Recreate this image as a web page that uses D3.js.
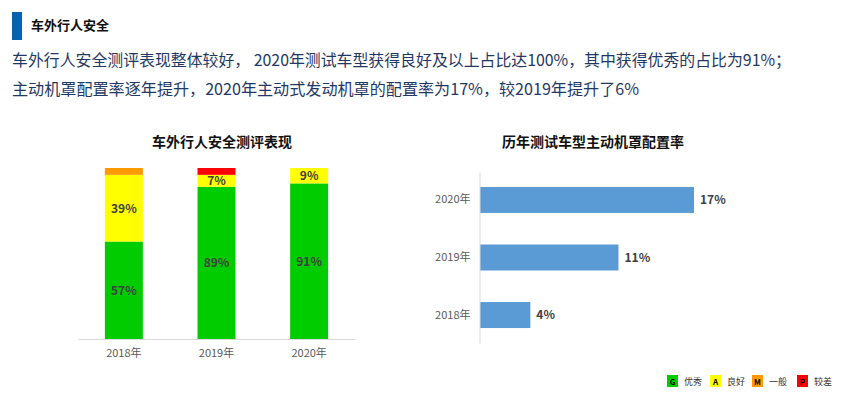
<!DOCTYPE html>
<html>
<head>
<meta charset="utf-8">
<script src="https://cdn.jsdelivr.net/npm/d3@7"></script>
<style>
    body { margin: 0; background: #fff; }
    svg { display: block; font-family: "Noto Sans CJK SC", "Noto Sans", sans-serif; }
</style>
</head>
<body>
<svg id="chart" width="841" height="394"></svg>
<script>
// data
const years = ['2018年', '2019年', '2020年'];
const ratings = ['G', 'A', 'M', 'P'];
const ratingNames = ['优秀', '良好', '一般', '较差'];
const ratingColors = ['#00CC00', '#FFFF00', '#FF9900', '#FF0000'];
const goodShare = [57, 89, 91];
const accShare = [39, 7, 9];
const margShare = [4, 0, 0];
const poorShare = [0, 4, 0];
const hoodYears = ['2020年', '2019年', '2018年'];
const hoodRate = [17, 11, 4];

const svg = d3.select('#chart');
const textColor = '#1F3864';

////////////////////////////////////////////////////////
// header
svg.append('rect').attr('x', 12).attr('y', 12).attr('width', 10).attr('height', 28).attr('fill', '#0563B0');
svg.append('text').attr('x', 31).attr('y', 30)
    .style('font-size', '13px').style('font-weight', 'bold').attr('fill', '#111')
    .text('车外行人安全');

const lines = [
    '车外行人安全测评表现整体较好， 2020年测试车型获得良好及以上占比达100%，其中获得优秀的占比为91%；',
    '主动机罩配置率逐年提升，2020年主动式发动机罩的配置率为17%，较2019年提升了6%'
];
const lineWidths = [779, 627];
svg.selectAll('.desc')
    .data(lines)
    .enter().append('text')
    .attr('class', 'desc')
    .attr('x', 12)
    .attr('y', (d, i) => 66 + i * 29)
    .attr('textLength', (d, i) => lineWidths[i])
    .attr('lengthAdjust', 'spacingAndGlyphs')
    .style('font-size', '16px')
    .attr('fill', textColor)
    .text(d => d);

////////////////////////////////////////////////////////
// left chart: stacked bars
const stackData = years.map((y, i) => ({
    year: y, G: goodShare[i], A: accShare[i], M: margShare[i], P: poorShare[i]
}));
const series = d3.stack().keys(ratings)(stackData);

const x = d3.scaleBand().domain(years).range([78, 355]).paddingInner(0.59).paddingOuter(0.29);
const y = d3.scaleLinear().domain([0, 100]).range([339, 168]);

svg.append('text').attr('x', 222).attr('y', 147).attr('text-anchor', 'middle')
    .style('font-size', '14px').style('font-weight', 'bold').attr('fill', '#111')
    .text('车外行人安全测评表现');

const layers = svg.append('g').selectAll('g')
    .data(series)
    .enter().append('g')
    .attr('fill', (d, i) => ratingColors[i]);

layers.selectAll('rect')
    .data(d => d)
    .enter().append('rect')
    .attr('x', d => x(d.data.year))
    .attr('width', x.bandwidth())
    .attr('y', d => y(d[1]))
    .attr('height', d => y(d[0]) - y(d[1]));

// labels for the G and A segments
series.slice(0, 2).forEach(s => {
    svg.append('g').selectAll('text')
        .data(s.filter(d => d[1] - d[0] > 0))
        .enter().append('text')
        .attr('x', d => x(d.data.year) + x.bandwidth() / 2)
        .attr('y', d => (y(d[0]) + y(d[1])) / 2)
        .attr('dy', '0.36em')
        .attr('text-anchor', 'middle')
        .style('font-size', '12px').style('font-weight', 'bold')
        .attr('fill', '#404040')
        .text(d => (d[1] - d[0]) + '%');
});

const xAxis = svg.append('g')
    .attr('transform', 'translate(0,339)')
    .call(d3.axisBottom(x).tickSize(0).tickPadding(10).tickSizeOuter(0));
xAxis.select('.domain').attr('stroke', '#D9D9D9');
xAxis.selectAll('text').style('font-size', '11px').attr('fill', '#595959')
    .style('font-family', '"Noto Sans CJK SC", sans-serif');

////////////////////////////////////////////////////////
// right chart: horizontal bars
const yb = d3.scaleBand().domain(hoodYears).range([172, 343]).paddingInner(0.548).paddingOuter(0.26);
const xb = d3.scaleLinear().domain([0, 17]).range([480, 694]);

svg.append('text').attr('x', 593).attr('y', 147).attr('text-anchor', 'middle')
    .style('font-size', '14px').style('font-weight', 'bold').attr('fill', '#111')
    .text('历年测试车型主动机罩配置率');

svg.append('g').selectAll('rect')
    .data(hoodRate)
    .enter().append('rect')
    .attr('x', xb(0))
    .attr('y', (d, i) => yb(hoodYears[i]))
    .attr('width', d => xb(d) - xb(0))
    .attr('height', yb.bandwidth())
    .attr('fill', '#5B9BD5');

svg.append('g').selectAll('text')
    .data(hoodRate)
    .enter().append('text')
    .attr('x', d => xb(d) + 6)
    .attr('y', (d, i) => yb(hoodYears[i]) + yb.bandwidth() / 2)
    .attr('dy', '0.36em')
    .style('font-size', '12px').style('font-weight', 'bold')
    .attr('fill', '#404040')
    .text(d => d + '%');

const yAxis = svg.append('g')
    .attr('transform', 'translate(479.5,0)')
    .call(d3.axisLeft(yb).tickSize(0).tickPadding(9).tickSizeOuter(0));
yAxis.select('.domain').attr('stroke', '#D9D9D9');
yAxis.selectAll('text').style('font-size', '11px').attr('fill', '#595959')
    .style('font-family', '"Noto Sans CJK SC", sans-serif');

////////////////////////////////////////////////////////
// legend
const legendX = [667, 710, 752, 797];
const legend = svg.append('g').selectAll('g')
    .data(ratings)
    .enter().append('g')
    .attr('transform', (d, i) => 'translate(' + legendX[i] + ',375)');
legend.append('rect')
    .attr('width', 11).attr('height', 12)
    .attr('fill', (d, i) => ratingColors[i]);
legend.append('text')
    .attr('x', 5.5).attr('y', 10)
    .attr('text-anchor', 'middle')
    .style('font-size', '8px').style('font-weight', 'bold').attr('fill', '#000')
    .text(d => d);
legend.append('text')
    .attr('x', 17).attr('y', 10)
    .style('font-size', '9px').attr('fill', '#333')
    .text((d, i) => ratingNames[i]);
</script>
</body>
</html>
